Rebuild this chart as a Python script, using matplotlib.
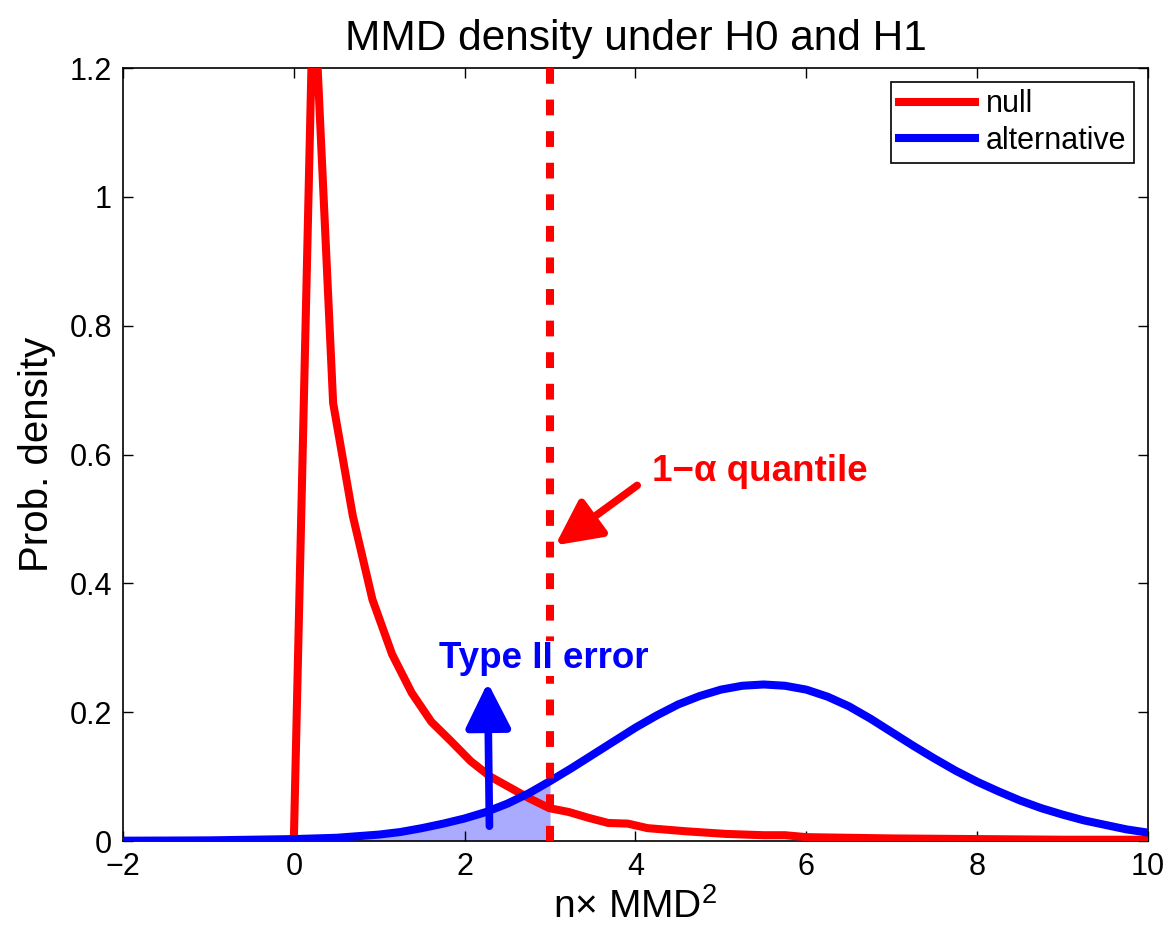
import numpy as np
import matplotlib
matplotlib.use("Agg")
import matplotlib.pyplot as plt

plt.rcParams['font.family'] = ['Liberation Sans', 'DejaVu Sans']
plt.rcParams['mathtext.fontset'] = 'custom'
plt.rcParams['mathtext.rm'] = 'Liberation Sans'
plt.rcParams['mathtext.it'] = 'Liberation Sans:italic'

# densité sous H0 (null)
x_null = [0.0, 0.23, 0.46, 0.69, 0.92, 1.15, 1.38, 1.61, 1.84, 2.07, 2.30, 2.53,
          2.76, 2.99, 3.22, 3.45, 3.68, 3.91, 4.14, 4.60, 5.06, 5.50, 5.75, 6.0,
          6.5, 7.0, 8.0, 9.0, 10.0]
y_null = [0.0, 1.34, 0.68, 0.505, 0.375, 0.29, 0.23, 0.185, 0.155, 0.124, 0.10, 0.083,
          0.066, 0.051, 0.045, 0.036, 0.028, 0.027, 0.020, 0.015, 0.011, 0.009, 0.009, 0.006,
          0.005, 0.004, 0.003, 0.002, 0.002]

# densité sous H1 (alternative)
x_alt = [-2.0, -1.5, -1.0, -0.5, 0.0, 0.5, 1.0, 1.25, 1.5, 1.75, 2.0, 2.25, 2.5, 2.75,
         3.0, 3.25, 3.5, 3.75, 4.0, 4.25, 4.5, 4.75, 5.0, 5.25, 5.5, 5.75, 6.0, 6.25,
         6.5, 6.75, 7.0, 7.25, 7.5, 7.75, 8.0, 8.25, 8.5, 8.75, 9.0, 9.25, 9.5, 9.75, 10.0]
y_alt = [0.0005, 0.0007, 0.001, 0.002, 0.003, 0.005, 0.010, 0.014, 0.020, 0.027, 0.035,
         0.045, 0.058, 0.074, 0.093, 0.113, 0.134, 0.155, 0.176, 0.195, 0.212, 0.225,
         0.235, 0.241, 0.243, 0.241, 0.235, 0.224, 0.209, 0.190, 0.169, 0.148, 0.128,
         0.109, 0.092, 0.077, 0.063, 0.051, 0.041, 0.032, 0.025, 0.018, 0.013]

quantile = 3.0

x_alt = np.array(x_alt)
y_alt = np.array(y_alt)

fig = plt.figure(figsize=(11.67, 9.33), dpi=100)
ax = fig.add_axes([0.1054, 0.0986, 0.8783, 0.8285])

# zone d'erreur de type II
m = x_alt <= quantile
ax.fill_between(x_alt[m], 0, y_alt[m], color='#aaaaff', linewidth=0, zorder=1)

ax.plot(x_null, y_null, color='red', lw=5.8, label='null', zorder=3)
ax.plot(x_alt, y_alt, color='blue', lw=5.8, label='alternative', zorder=4)
# tracé du haut vers le bas pour avoir un tiret à chaque bout
ax.plot([quantile, quantile], [1.2, 0], color='red', lw=5.8, dashes=(1.96, 1.96), zorder=5)

ax.text(1.70, 0.283, 'Type II error', color='blue', fontsize=26.5, fontweight='bold',
        ha='left', va='center', zorder=6,
        bbox=dict(facecolor='white', edgecolor='none', pad=0))
ax.text(4.19, 0.573, '1\u2212\u03b1 quantile', color='red', fontsize=26.5, fontweight='bold',
        ha='left', va='center', zorder=6)

arrow_style = '-|>,head_length=1.1,head_width=0.55'
ax.annotate('', xy=(2.27, 0.246), xytext=(2.29, 0.023),
            arrowprops=dict(arrowstyle=arrow_style, lw=5.5,
                            color='blue', shrinkA=0, shrinkB=0, mutation_scale=25),
            zorder=7)
ax.annotate('', xy=(3.06, 0.459), xytext=(4.02, 0.552),
            arrowprops=dict(arrowstyle=arrow_style, lw=5.5,
                            color='red', shrinkA=0, shrinkB=0, mutation_scale=25),
            zorder=7)

ax.set_xlim(-2, 10)
ax.set_ylim(0, 1.2)
ax.set_xticks([-2, 0, 2, 4, 6, 8, 10])
ax.set_yticks([0, 0.2, 0.4, 0.6, 0.8, 1.0, 1.2])
ax.set_yticklabels(['0', '0.2', '0.4', '0.6', '0.8', '1', '1.2'])
ax.tick_params(direction='in', length=7, width=1, top=True, right=True, labelsize=22, pad=8)
for s in ax.spines.values():
    s.set_linewidth(1.2)

ax.set_title('MMD density under H0 and H1', fontsize=30.5, pad=13)
ax.set_xlabel(r'n$\times$ MMD$^2$', fontsize=28, labelpad=4)
ax.set_ylabel('Prob. density', fontsize=29, labelpad=10)

leg = ax.legend(loc='upper right', fontsize=22, handlelength=2.5, handletextpad=0.35,
                labelspacing=0.2, borderaxespad=0.45, fancybox=False, framealpha=1,
                edgecolor='black', borderpad=0.25)
leg.get_frame().set_linewidth(1.2)

fig.savefig('out.png', dpi=100)
